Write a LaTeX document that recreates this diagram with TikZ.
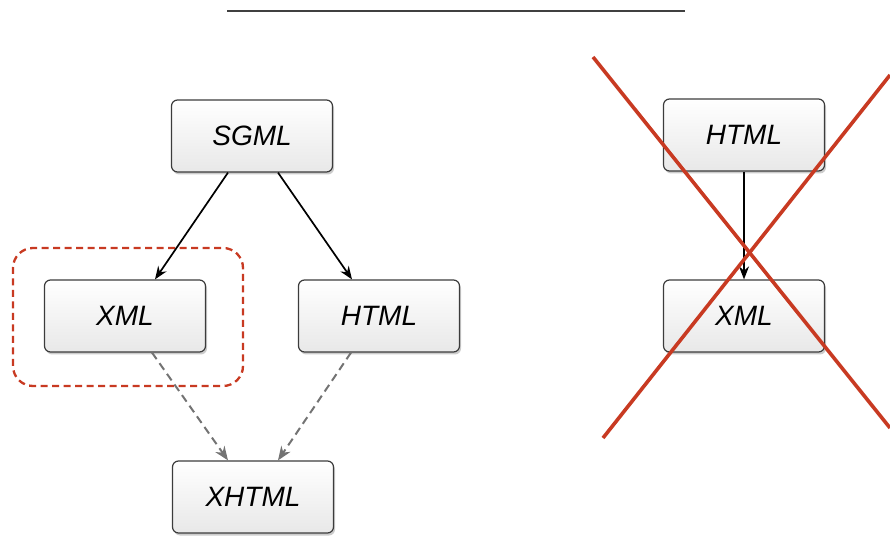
\documentclass[tikz,border=0pt]{standalone}
\usepackage{fontspec}
\setmainfont{Liberation Sans}
\usetikzlibrary{shadows,calc,arrows.meta}
\definecolor{crossred}{RGB}{200,58,34}
\definecolor{boxedge}{RGB}{60,60,60}
\tikzset{
  langbox/.style={draw=boxedge, line width=1.2pt, rounded corners=6pt,
    minimum width=161pt, minimum height=72pt, top color=white, bottom color=black!9,
    drop shadow={opacity=0.4, shadow xshift=1.5pt, shadow yshift=-2.5pt},
    font=\fontsize{28}{32}\selectfont\itshape},
  solidarrow/.style={draw=black, line width=1.7pt, -{Stealth[length=13pt,width=10pt]}},
  dasharrow/.style={draw=black!55, line width=2pt, dash pattern=on 8pt off 5pt,
    -{Stealth[length=14pt,width=11pt]}},
  crossline/.style={draw=crossred, line width=3.6pt},
  groupbox/.style={draw=crossred, line width=2.3pt, dash pattern=on 7pt off 4.5pt, rounded corners=20pt}
}
\begin{document}
\begin{tikzpicture}[x=1pt,y=1pt]
  \useasboundingbox (0,0) rectangle (890,535);
  % title rule
  \draw[black!75, line width=2pt] (227,524) -- (685,524);

  % group highlight around XML
  \draw[groupbox] (13,149) rectangle (243,287);

  % left hierarchy
  \node[langbox] (sgml) at (252,399) {SGML};
  \node[langbox] (xml) at (125,219) {XML};
  \node[langbox] (html) at (379,219) {HTML};
  \node[langbox] (xhtml) at (253,38) {XHTML};

  \draw[solidarrow] ($(sgml.south)+(-24,0)$) -- ($(xml.north)+(30,0)$);
  \draw[solidarrow] ($(sgml.south)+(26,0)$) -- ($(html.north)+(-27,0)$);
  \draw[dasharrow] ($(xml.south)+(27,0)$) -- ($(xhtml.north)+(-25,0)$);
  \draw[dasharrow] ($(html.south)+(-28,0)$) -- ($(xhtml.north)+(25,0)$);

  % right hierarchy, crossed out
  \node[langbox] (html2) at (744,400) {HTML};
  \node[langbox] (xml2) at (744,219) {XML};
  \draw[solidarrow] (html2.south) -- (xml2.north);

  \coordinate (xa) at (593,478);
  \coordinate (xb) at (890,107);
  \coordinate (xc) at (603,97);
  \coordinate (xd) at (890,460);
  \draw[crossline] (xa) -- (xb);
  \draw[crossline] (xc) -- (xd);
\end{tikzpicture}
\end{document}
